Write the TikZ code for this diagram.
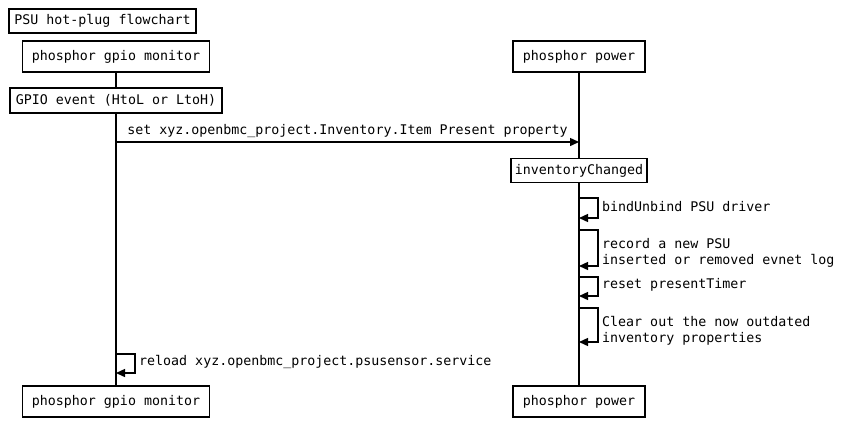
\documentclass[tikz,border=0pt]{standalone}
\usepackage{fontspec}
\setmonofont{DejaVu Sans Mono}
\usetikzlibrary{positioning,arrows.meta}

\tikzset{
  box/.style={draw, line width=1.8pt, fill=white, inner sep=0pt,
    font=\ttfamily\fontsize{13.3}{16}\selectfont},
  lifeline/.style={line width=1.8pt},
  msg/.style={line width=1.4pt, -{Triangle[length=9pt,width=8pt]}},
  lbl/.style={inner sep=0pt, align=left,
    font=\ttfamily\fontsize{13.3}{15.5}\selectfont}
}

\begin{document}
\begin{tikzpicture}[x=1pt,y=-1pt]
    \fill[white] (0,0) rectangle (846,424);
    \useasboundingbox (0,0) rectangle (846,424);

    \node[box, minimum width=187pt, minimum height=24pt] at (102.5,21) (title) {PSU hot-plug flowchart};
    \node[box, minimum width=187pt, minimum height=31pt] at (116,56.5) (gpioTop) {phosphor gpio monitor};
    \node[box, minimum width=132pt, minimum height=31pt] at (579,56.5) (powerTop) {phosphor power};
    \node[box, minimum width=212pt, minimum height=25pt] at (116,100.5) (gpioEvent) {GPIO event (HtoL or LtoH)};
    \node[box, minimum width=136pt, minimum height=24pt] at (579,170.5) (invChanged) {inventoryChanged};
    \node[box, minimum width=187pt, minimum height=31pt] at (116,401.5) (gpioBot) {phosphor gpio monitor};
    \node[box, minimum width=132pt, minimum height=31pt] at (579,401.5) (powerBot) {phosphor power};

    % lifelines
    \draw[lifeline] (gpioTop) -- (gpioEvent);
    \draw[lifeline] (gpioEvent) -- (gpioBot);
    \draw[lifeline] (powerTop) -- (invChanged);
    \draw[lifeline] (invChanged) -- (powerBot);

    % set property
    \coordinate (setFrom) at (116,142);
    \coordinate (setTo) at (579,142);
    \draw[msg] (setFrom) -- node[lbl, above=4pt] (setTxt) {set xyz.openbmc\_project.Inventory.Item Present property} (setTo);

    % self calls on phosphor power
    \coordinate (bindA) at (579,198);
    \coordinate (bindB) at (579,218);
    \draw[msg] (bindA) -- ++(19,0) |- (bindB);
    \node[lbl, anchor=west] at (602,207) (bindTxt) {bindUnbind PSU driver};

    \coordinate (logA) at (579,230);
    \coordinate (logB) at (579,266);
    \draw[msg] (logA) -- ++(19,0) |- (logB);
    \node[lbl, anchor=west] at (602,253) (logTxt) {record a new PSU\\inserted or removed evnet log};

    \coordinate (timerA) at (579,277);
    \coordinate (timerB) at (579,296);
    \draw[msg] (timerA) -- ++(19,0) |- (timerB);
    \node[lbl, anchor=west] at (602,285) (timerTxt) {reset presentTimer};

    \coordinate (clearA) at (579,308);
    \coordinate (clearB) at (579,342);
    \draw[msg] (clearA) -- ++(19,0) |- (clearB);
    \node[lbl, anchor=west] at (602,331) (clearTxt) {Clear out the now outdated\\inventory properties};

    % self call on gpio monitor
    \coordinate (reloadA) at (116,354);
    \coordinate (reloadB) at (116,373);
    \draw[msg] (reloadA) -- ++(19,0) |- (reloadB);
    \node[lbl, anchor=west] at (139,362) (reloadTxt) {reload xyz.openbmc\_project.psusensor.service};
\end{tikzpicture}
\end{document}
